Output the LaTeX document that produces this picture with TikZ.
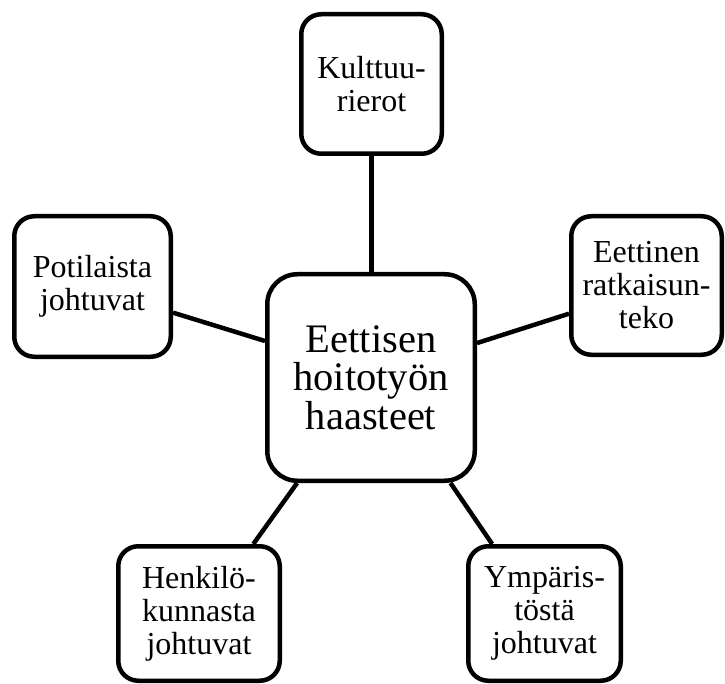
\documentclass[tikz,border=0pt]{standalone}
\usepackage{fontspec}
\setmainfont{Liberation Serif}
\usetikzlibrary{backgrounds}

\tikzset{
  boxbase/.style={draw=black, line width=4.5pt, fill=white, align=center,
    inner sep=0pt, text=black},
  smallbox/.style={boxbase, rounded corners=20pt,
    font=\fontsize{32}{33}\selectfont},
  hubbox/.style={boxbase, rounded corners=30pt,
    font=\fontsize{40.5}{38.5}\selectfont},
  link/.style={draw=black, line width=4.5pt},
}

\begin{document}
\begin{tikzpicture}[x=1pt, y=-1pt]
  \useasboundingbox (0,0) rectangle (725,684);

  % central topic
  \node[hubbox, minimum width=207.5pt, minimum height=206.5pt]
    (hub) at (371,377.5) {Eettisen\\hoitotyön\\haasteet};

  % surrounding factors
  \node[smallbox, minimum width=140.5pt, minimum height=139.5pt]
    (kult) at (371.5,84) {Kulttuu-\\rierot};
  \node[smallbox, minimum width=156.5pt, minimum height=140.5pt]
    (pot) at (92.5,286.5) {Potilaista\\johtuvat};
  \node[smallbox, minimum width=150.5pt, minimum height=138.5pt]
    (ratk) at (646.5,285.5) {Eettinen\\ratkaisun-\\teko};
  \node[smallbox, minimum width=161.5pt, minimum height=134.5pt]
    (henk) at (199,613.5) {Henkilö-\\kunnasta\\johtuvat};
  \node[smallbox, minimum width=152.5pt, minimum height=134.5pt]
    (ymp) at (544.5,613.5) {Ympäris-\\töstä\\johtuvat};

  % connectors behind the boxes
  \begin{scope}[on background layer]
    \draw[link] (kult.south) -- (hub.north -| kult.south);
    \draw[link] (pot.-18.6) -- (hub.161.6);
    \draw[link] (ratk.200) -- (hub.18.35);
    \draw[link] (henk.52.9) -- (hub.-125.6);
    \draw[link] (ymp.127.3) -- (hub.-53.7);
  \end{scope}
\end{tikzpicture}
\end{document}
